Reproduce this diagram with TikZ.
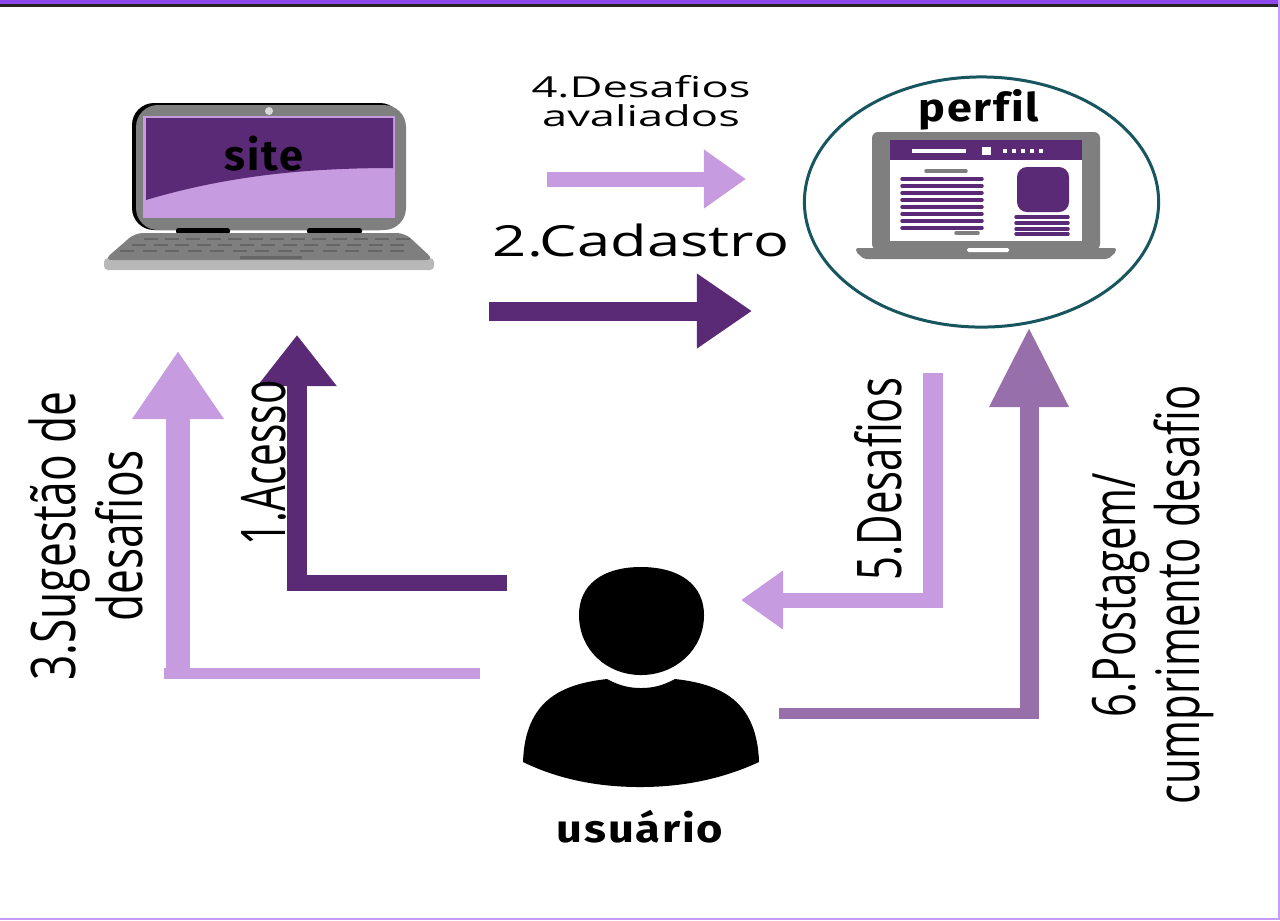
\documentclass[tikz,border=0pt]{standalone}
\usepackage{fontspec}
\setmainfont{Open Sans}
\newfontfamily\tagfont[LetterSpace=4,Ligatures=NoCommon]{Fira Sans}
\usetikzlibrary{arrows.meta,shapes.geometric}
\definecolor{Deep}{HTML}{5B2A76}
\definecolor{Soft}{HTML}{C79BE0}
\definecolor{Mid}{HTML}{9770AB}
\definecolor{Ring}{HTML}{17565F}
\definecolor{Case}{HTML}{7F7F7F}
\definecolor{Lip}{HTML}{B8B8B8}
\definecolor{Band}{HTML}{8F47EE}
\definecolor{Rim}{HTML}{C79BFF}
\tikzset{
 tag/.style={font=\tagfont\bfseries\fontsize{11}{13}\selectfont,inner sep=0pt},
 side/.style={font=\fontsize{17.5}{19}\selectfont,rotate=90,xscale=.72,align=center,inner sep=0pt},
 top/.style={align=center,inner sep=0pt},
 deep/.style={draw=Deep},
 soft/.style={draw=Soft},
 mid/.style={draw=Mid},
 rowline/.style={line width=.35mm,line cap=round}
}
\begin{document}
\begin{tikzpicture}[x=.01cm,y=-.01cm]
\useasboundingbox (0,0) rectangle (1280,920);
\fill[white] (0,0) rectangle (1280,920);
\fill[Band] (0,0) rectangle (1280,4);
\fill[black!85] (0,4) rectangle (1280,7);
\fill[Rim] (1278,0) rectangle (1280,920);
\fill[Rim] (0,918) rectangle (1280,920);
% site laptop
\fill[black,rounded corners=2.2mm] (132,103) rectangle (402,230);
\fill[Case,rounded corners=2.2mm] (136,105) rectangle (406,230);
\fill[Soft] (143,116) rectangle (395,218);
\fill[Deep] (146,118) -- (393,118) -- (393,168) .. controls (310,168) and (230,175) .. (146,200) -- cycle;
\fill[black!15] (269,111) circle (4);
\fill[black,rounded corners=.25mm] (176,228) rectangle (230,234);
\fill[black,rounded corners=.25mm] (307,228) rectangle (362,234);
\fill[Lip,rounded corners=.4mm] (104,258) rectangle (434,270);
\fill[Case,rounded corners=.8mm] (135,233) -- (405,233) -- (434,260) -- (104,260) -- cycle;
\foreach \k in {0,...,12} {
 \draw[black!60,line width=.25mm] (138+\k*21,239) ++(6,0) -- ++(14,0);
 \draw[black!60,line width=.25mm] (130+\k*21.5,245) ++(2,0) -- ++(14,0);
 \draw[black!60,line width=.25mm] (120+\k*22.5,251) -- ++(14,0);
}
\draw[black!60,line width=.3mm] (240,257) -- (302,257);
\node[tag,xscale=1.12,yscale=1.1] (site) at (264,154) {site};
% perfil laptop
\node[draw=Ring,line width=.3mm,ellipse,minimum width=3.54cm,minimum height=2.5cm,inner sep=0pt] (ring) at (981.5,202) {};
\fill[Case,rounded corners=.6mm] (872,132) rectangle (1100,250);
\fill[white] (890,140) rectangle (1082,241);
\fill[Deep] (890,140) rectangle (1082,160);
\draw[white,line width=.35mm] (912,151) -- (966,151);
\fill[white] (982,147) rectangle (991,155);
\foreach \k in {0,...,4} \fill[white] (1003+\k*9,149) rectangle ++(4,4);
\draw[Case,rowline] (926,171) -- (966,171);
\foreach \k in {0,...,7} \draw[Deep,rowline] (902,179+\k*7) -- (982,179+\k*7);
\draw[Case,rowline] (956,233) -- (978,233);
\fill[Deep,rounded corners=1mm] (1017,167) rectangle (1069,212);
\foreach \k in {217,223,229,234} \draw[Deep,rowline] (1016,\k) -- (1068,\k);
\fill[Case,rounded corners=.2mm] (856,248) -- (1116,248) -- (1116,252) -- (1108,259) -- (864,259) -- (856,252) -- cycle;
\fill[white,rounded corners=.15mm] (967,248) rectangle (1009,252);
\node[tag,xscale=1.16,yscale=1.02] (perfil) at (979,110) {perfil};
% user
\fill[black] (641,567) .. controls (680,567) and (704,585) .. (704,615) .. controls (704,650) and (675,675) .. (641,675) .. controls (607,675) and (579,650) .. (579,615) .. controls (579,585) and (602,567) .. (641,567);
\fill[black] (607,679) .. controls (620,686) and (630,688) .. (641,688) .. controls (652,688) and (662,686) .. (675,679) .. controls (720,684) and (757,700) .. (759,762) .. controls (720,780) and (680,787) .. (640,787) .. controls (600,787) and (560,780) .. (523,762) .. controls (525,700) and (562,684) .. (607,679);
\node[tag,xscale=1.17] (usuario) at (640,827) {usuário};
% connector ends
\coordinate (a1s) at (507,583);
\coordinate (a1h) at (287,583);
\coordinate (a1c) at (297,591);
\coordinate (a1t) at (297,335);
\coordinate (a2s) at (489,311);
\coordinate (a2t) at (752,311);
\coordinate (a3s) at (480,673);
\coordinate (a3h) at (164,673);
\coordinate (a3c) at (178,679);
\coordinate (a3t) at (178,351);
\coordinate (a4s) at (547,179);
\coordinate (a4t) at (746,179);
\coordinate (a5s) at (933,373);
\coordinate (a5c) at (933,608);
\coordinate (a5h) at (943,600);
\coordinate (a5t) at (741,600);
\coordinate (a6s) at (779,713);
\coordinate (a6h) at (1038,713);
\coordinate (a6c) at (1029,719);
\coordinate (a6t) at (1029,327);
\draw[deep,line width=1.6mm] (a1s) -- (a1h);
\draw[deep,line width=2mm,-{Triangle[length=5.1mm,width=7.6mm]}] (a1c) -- (a1t);
\draw[deep,line width=1.9mm,-{Triangle[length=5.5mm,width=7.1mm]}] (a2s) -- (a2t);
\draw[soft,line width=1.1mm] (a3s) -- (a3h);
\draw[soft,line width=2.3mm,-{Triangle[length=6.8mm,width=8.7mm]}] (a3c) -- (a3t);
\draw[soft,line width=1.5mm,-{Triangle[length=4.2mm,width=5.6mm]}] (a4s) -- (a4t);
\draw[soft,line width=2mm] (a5s) -- (a5c);
\draw[soft,line width=1.5mm,-{Triangle[length=4.2mm,width=5.6mm]}] (a5h) -- (a5t);
\draw[mid,line width=1.1mm] (a6s) -- (a6h);
\draw[mid,line width=1.9mm,-{Triangle[length=8mm,width=7.4mm]}] (a6c) -- (a6t);
% labels
\node[side,xscale=.66/.72] (l1) at (264,463) {1.Acesso};
\node[font=\fontsize{12.2}{14}\selectfont,top,xscale=1.39] (l2) at (641,240) {2.Cadastro};
\node[side] (l3) at (86,536) {3.Sugestão de\\desafios};
\node[font=\fontsize{8.2}{8.2}\selectfont,top,xscale=1.57] (l4) at (641,101) {4.Desafios\\avaliados};
\node[side,xscale=.68/.72] (l5) at (878,479) {5.Desafios};
\node[side,font=\fontsize{17}{17}\selectfont,xscale=.7/.72] (l6) at (1153,595) {6.Postagem/\\cumprimento desafio};
\end{tikzpicture}
\end{document}
